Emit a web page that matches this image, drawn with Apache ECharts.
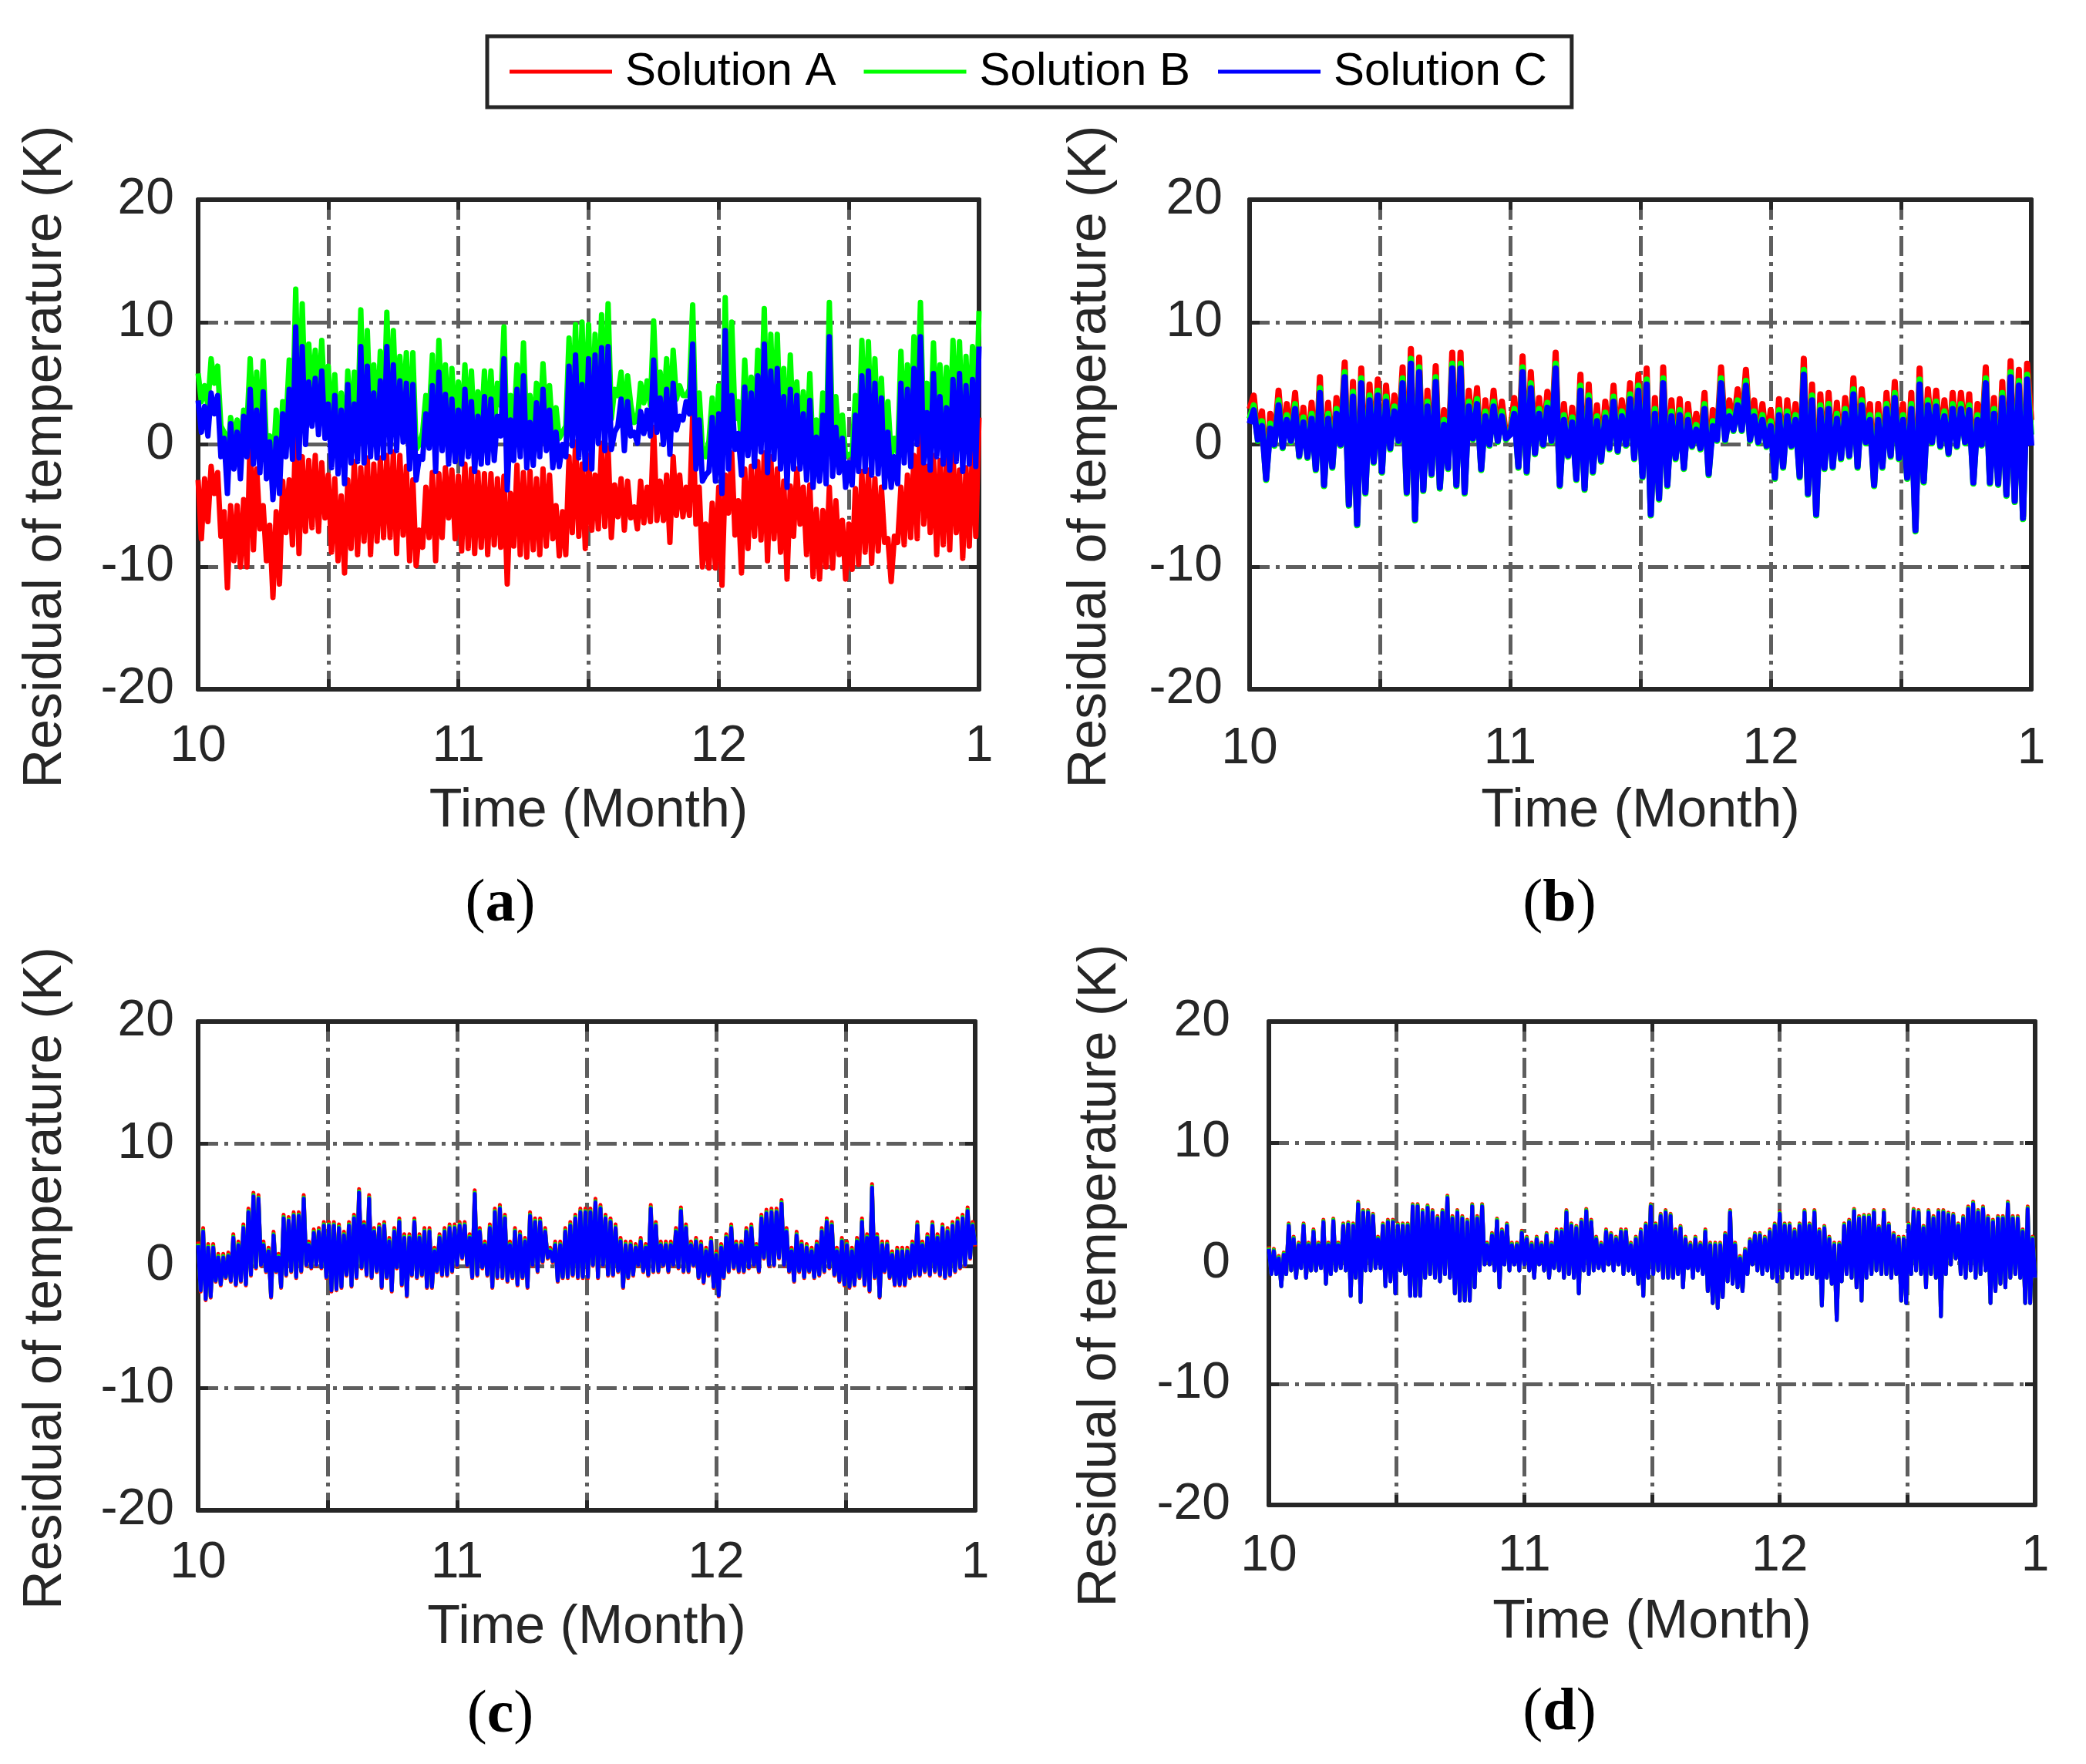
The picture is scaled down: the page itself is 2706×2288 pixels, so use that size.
<!DOCTYPE html>
<html>
<head>
<meta charset="utf-8">
<script src="https://cdn.jsdelivr.net/npm/echarts@6/dist/echarts.min.js"></script>
<style>
html, body { margin: 0; padding: 0; background: #ffffff; }
#chart { width: 2706px; height: 2288px; }
</style>
</head>
<body>
<div id="chart"></div>
<script>
const seriesNames = ['Solution A', 'Solution B', 'Solution C'];
const seriesColors = ['#ff0000', '#00ff00', '#0000ff'];
const xTickValues = [10, 11, 12, 13];
const xTickLabels = ['10', '11', '12', '1'];
const yTickValues = [-20, -10, 0, 10, 20];
const yTickLabels = ['-20', '-10', '0', '10', '20'];
const panelLetters = ['a', 'b', 'c', 'd'];
const xTitle = 'Time (Month)';
const yTitle = 'Residual of temperature (K)';

// ---------- panel (a) ----------
const solA_a = [-2.9, -7.7, -2.8, -6.3, -1.8, -4.0, -2.3, -7.5, -5.5, -11.7,
 -5.0, -9.5, -5.0, -10.0, -4.5, -10.0, 0.7, -8.6, -2.0, -6.9,
 -5.0, -9.5, -6.6, -12.5, -5.5, -11.4, -3.0, -7.2, -2.9, -8.2,
 1.5, -8.9, -1.0, -7.1, -1.3, -6.8, -0.9, -7.1, -1.5, -6.0,
 -2.5, -8.8, -2.8, -9.5, -4.2, -10.5, -2.9, -8.5, -1.4, -9.0,
 -1.9, -7.9, -1.1, -9.0, -1.6, -7.9, -1.1, -7.6, -0.9, -7.6,
 -0.6, -8.9, -0.9, -7.4, -1.8, -9.5, -2.9, -9.9, -7.0, -8.4,
 -3.5, -7.6, -2.3, -9.5, -2.4, -7.6, -1.9, -6.0, -2.1, -7.7,
 -2.6, -8.7, -1.6, -8.5, -2.0, -8.9, -2.3, -8.4, -2.4, -9.0,
 -2.4, -8.2, -2.8, -8.4, -2.6, -11.4, -4.0, -8.3, -1.7, -9.0,
 -2.3, -9.2, -2.2, -8.6, -2.8, -9.0, -2.0, -8.3, -2.5, -7.7,
 -5.0, -9.1, -5.5, -9.0, -1.0, -7.2, 0.2, -7.5, -1.6, -8.5,
 -0.9, -7.0, -2.5, -6.9, 0.1, -6.7, -0.3, -7.6, -3.3, -5.9,
 -2.8, -7.0, -3.0, -6.0, -5.1, -6.9, -3.0, -6.4, -3.5, -6.3,
 1.4, -6.2, -3.0, -6.2, -2.5, -8.0, -1.0, -5.8, -2.5, -5.9,
 -3.5, -5.8, 2.5, -6.5, -3.5, -10.0, -6.5, -10.1, -4.8, -10.1,
 -3.5, -11.5, -2.5, -5.6, -0.7, -7.4, -4.6, -10.5, -2.0, -8.5,
 -1.8, -7.5, -1.4, -7.8, -0.7, -9.5, -1.0, -7.7, -2.0, -8.8,
 -3.0, -11.0, -3.4, -7.5, -2.0, -6.5, -3.5, -9.0, -3.3, -10.8,
 -5.3, -11.0, -5.4, -10.0, -3.5, -10.1, -4.6, -9.0, -6.2, -11.0,
 -6.5, -10.2, -3.6, -9.8, -2.2, -8.8, -2.1, -9.7, -2.8, -8.7,
 -3.5, -8.0, -7.7, -11.2, -7.5, -8.0, -3.5, -8.2, -2.5, -7.6,
 -0.9, -7.7, 2.7, -6.5, -1.8, -7.2, -0.9, -9.0, -1.3, -8.2,
 -1.0, -8.6, -0.7, -7.2, -2.1, -9.3, -1.9, -8.3, -0.2, -7.5,
 2.2];
const solB_a = [5.8, 3.5, 4.8, 3.2, 7.0, 5.0, 6.4, 1.5, 1.0, -1.5,
 2.2, 0.5, 2.0, -0.3, 2.8, 1.5, 7.0, 1.0, 5.9, 0.2,
 6.8, -0.3, 0.7, -2.0, 2.8, -1.5, 3.5, 1.5, 6.9, 1.3,
 12.7, 1.5, 11.5, 2.5, 8.2, 4.0, 7.7, 3.3, 8.5, 3.0,
 6.4, 0.6, 5.7, 0.1, 4.2, -0.7, 6.0, 1.0, 5.9, 1.1,
 11.0, 1.0, 9.3, 1.5, 6.5, 1.4, 7.6, 1.4, 10.8, 1.9,
 9.3, 2.0, 7.2, 2.7, 7.5, 0.5, 7.5, -0.4, 0.0, 1.0,
 4.0, 2.2, 7.3, 0.3, 8.5, 2.0, 6.5, 0.9, 6.2, 1.1,
 5.1, 0.9, 6.5, 1.5, 6.0, 0.3, 4.3, 0.9, 6.0, 1.0,
 6.0, 1.2, 5.0, 3.2, 9.6, -1.2, 4.0, 1.2, 6.5, 1.5,
 8.3, 0.6, 4.0, 0.8, 5.0, 1.5, 6.6, 2.0, 4.8, 0.6,
 3.0, 0.5, 1.0, 1.5, 8.7, 2.4, 9.8, 1.4, 10.0, 0.5,
 9.8, 0.5, 9.0, 2.6, 10.6, 2.0, 11.5, 2.1, 4.5, 4.0,
 5.9, 2.0, 5.6, 3.2, 1.8, 2.0, 5.0, 3.4, 5.2, 3.2,
 10.1, 3.5, 5.9, 2.5, 7.0, 1.7, 7.7, 3.7, 4.8, 4.0,
 4.0, 4.5, 11.4, 0.5, 4.2, -0.5, -1.0, 0.3, 3.8, -0.5,
 4.8, -1.5, 12.0, 0.5, 10.0, 2.1, 3.5, 0.0, 6.9, 1.6,
 5.5, 0.7, 7.7, 1.9, 11.1, 0.2, 9.0, 1.3, 9.0, 0.5,
 6.2, -1.0, 7.3, 0.5, 5.1, 0.5, 4.3, -0.4, 5.8, -1.0,
 2.0, -0.5, 4.2, -0.7, 11.6, -0.1, 3.9, 0.2, 2.4, -1.0,
 -0.8, -0.8, 4.0, 0.3, 8.5, 0.3, 8.4, 0.0, 7.0, 0.1,
 5.4, -1.0, 3.5, -1.0, 0.5, -0.7, 7.6, 1.0, 6.5, 0.7,
 8.8, 2.5, 11.6, 1.0, 5.0, 0.4, 8.3, 1.5, 6.5, 0.9,
 6.3, 0.4, 8.5, 1.1, 8.4, 0.3, 7.2, 0.9, 8.0, 0.7,
 10.9];
const solC_a = [3.6, 1.0, 3.1, 0.7, 4.2, 2.5, 4.0, -1.0, 0.5, -4.0,
 1.7, -2.0, 1.0, -2.8, 2.3, -1.0, 4.5, -1.6, 2.8, -2.3,
 4.3, -2.8, 0.2, -4.5, 0.5, -4.0, 2.5, -1.0, 4.5, -1.2,
 9.6, -1.1, 8.0, 0.0, 5.1, 1.5, 5.4, 0.8, 6.0, 0.5,
 3.3, -1.9, 4.0, -2.4, 2.8, -3.2, 4.9, -1.5, 3.3, -1.4,
 8.0, -1.5, 6.4, -1.0, 4.2, -1.1, 5.2, -1.1, 8.0, -0.6,
 6.5, -0.5, 5.2, 0.2, 5.0, -2.0, 4.9, -2.9, -1.0, -1.2,
 2.5, -0.3, 4.8, -2.2, 5.9, -0.5, 4.1, -1.6, 3.7, -1.4,
 2.8, -1.6, 4.5, -1.0, 3.5, -2.2, 2.3, -1.6, 3.9, -1.5,
 3.7, -1.3, 2.3, 0.7, 7.0, -3.7, 2.0, -1.3, 4.5, -1.0,
 5.6, -1.9, 1.8, -1.7, 3.4, -1.0, 4.5, -0.5, 2.8, -1.9,
 1.0, -1.8, 0.0, -1.0, 6.4, -0.1, 7.3, -1.1, 4.9, -2.0,
 7.0, -2.0, 7.3, 0.1, 7.9, -0.5, 8.0, -0.4, 1.0, 1.5,
 3.7, -0.5, 3.5, 0.7, 1.0, 0.1, 2.7, 0.9, 2.8, 0.7,
 6.9, 1.0, 3.8, 0.0, 4.5, -0.8, 5.0, 1.2, 2.3, 2.0,
 3.5, 2.5, 8.2, -2.0, 2.0, -3.0, -2.5, -2.2, 2.2, -3.0,
 2.5, -4.0, 9.3, -2.0, 4.0, -0.4, 0.9, -2.5, 4.7, -0.9,
 4.2, -1.8, 5.6, -0.6, 8.2, -2.3, 6.0, -1.2, 6.2, -2.0,
 3.9, -3.5, 4.5, -2.0, 4.0, -2.0, 2.5, -2.9, 3.6, -3.5,
 0.6, -3.0, 2.4, -3.2, 8.8, -2.6, 1.4, -2.3, 0.5, -3.5,
 -1.5, -3.3, 2.4, -2.2, 5.6, -2.2, 6.0, -2.5, 5.0, -2.4,
 3.8, -3.5, 1.0, -3.5, -1.0, -3.2, 5.0, -1.5, 4.5, -1.8,
 6.2, 0.0, 8.8, -1.5, 2.6, -2.1, 5.8, -1.0, 3.9, -1.6,
 3.0, -2.1, 5.3, -1.4, 5.8, -2.2, 4.8, -1.6, 5.3, -1.8,
 8.0];

// ---------- panel (b) ----------
const solA_b = [2.9, 4.0, 0.6, 2.7, -2.6, 2.5, 0.2, 4.4, 0.0, 3.3,
 0.5, 4.2, -0.7, 3.0, -0.8, 3.4, -1.8, 5.5, -3.1, 3.4,
 -1.6, 3.8, 0.2, 6.7, -4.7, 5.1, -6.3, 6.2, -3.7, 4.9,
 -1.2, 5.3, -2.0, 4.8, -0.1, 4.0, 0.5, 6.3, -3.7, 7.8,
 -5.9, 7.1, -3.5, 4.4, -2.2, 6.4, -3.3, 2.8, -1.7, 7.5,
 -3.1, 7.5, -3.7, 4.4, 0.7, 4.6, -1.8, 3.6, 0.2, 4.4,
 0.5, 3.5, 0.7, 1.0, 3.8, -1.6, 7.2, -2.0, 5.9, -0.5,
 3.8, 0.2, 4.3, 0.5, 7.5, -3.1, 3.3, -0.7, 3.0, -2.6,
 5.7, -3.4, 4.9, -2.0, 3.2, -1.1, 3.5, -0.1, 4.8, -0.3,
 3.6, 0.2, 5.0, -0.9, 5.7, -2.4,
 6.2, -5.5, 3.8, -4.2, 6.3, -3.1, 3.6, -0.9, 3.7, -1.7,
 3.3, 0.1, 2.5, -0.1, 4.2, -2.2, 2.8, 0.6, 6.3, 0.6,
 3.6, 1.4, 4.5, 1.4, 6.1, 0.6, 3.6, 0.4, 3.3, 0.1,
 2.8, -2.5, 3.7, -1.6, 3.6, 0.1, 3.3, -2.4, 7.0, -3.8,
 4.9, -5.5, 4.1, -1.7, 4.2, -1.6, 3.4, -0.9, 3.8, -0.7,
 5.4, -1.6, 4.5, 0.4, 3.3, -3.1, 3.3, -1.6, 4.2, -0.7,
 5.1, -0.9, 3.3, -2.5, 4.2, -6.8, 6.2, -2.8, 4.5, 0.4,
 4.4, 0.1, 3.6, -0.5, 4.2, 0.1, 4.2, 0.4, 4.1, -2.9,
 3.3, 0.2, 6.3, -2.9, 3.8, -3.0, 5.1, -3.9, 6.8, -4.4,
 6.1, -5.8, 6.6, 2.0];
const solB_b = [2.1, 3.2, 0.3, 1.9, -2.9, 1.7, -0.1, 3.6, -0.3, 2.4,
 0.2, 3.3, -1.0, 2.2, -1.1, 2.5, -2.1, 4.6, -3.4, 2.5,
 -1.9, 2.9, -0.1, 5.9, -5.0, 4.3, -6.6, 5.4, -4.0, 4.0,
 -1.5, 4.4, -2.3, 3.9, -0.4, 3.1, 0.2, 5.4, -4.0, 7.0,
 -6.2, 6.3, -3.8, 3.5, -2.5, 5.5, -3.6, 2.0, -2.0, 6.6,
 -3.4, 6.6, -4.0, 3.5, 0.4, 3.7, -2.1, 2.7, -0.1, 3.5,
 0.2, 2.7, 0.4, 0.9, 2.9, -1.9, 6.3, -2.3, 5.0, -0.8,
 2.9, -0.1, 3.4, 0.2, 6.6, -3.4, 2.4, -1.0, 2.2, -2.9,
 4.8, -3.7, 4.0, -2.3, 2.3, -1.4, 2.6, -0.4, 3.9, -0.6,
 2.7, -0.1, 4.1, -1.2, 4.8, -2.7,
 5.3, -5.8, 2.9, -4.5, 5.4, -3.4, 2.7, -1.2, 2.8, -2.0,
 2.4, -0.2, 1.6, -0.4, 3.3, -2.5, 1.9, 0.3, 5.4, 0.3,
 2.7, 1.1, 3.6, 1.1, 5.2, 0.3, 2.7, 0.1, 2.4, -0.2,
 1.9, -2.8, 2.8, -1.9, 2.7, -0.2, 2.4, -2.7, 6.1, -4.1,
 4.0, -5.8, 3.2, -2.0, 3.3, -1.9, 2.5, -1.2, 2.9, -1.0,
 4.5, -1.9, 3.6, 0.1, 2.4, -3.4, 2.4, -1.9, 3.3, -1.0,
 4.2, -1.2, 2.4, -2.8, 3.3, -7.1, 5.3, -3.1, 3.6, 0.1,
 3.5, -0.2, 2.7, -0.8, 3.3, -0.2, 3.3, 0.1, 3.2, -3.2,
 2.4, -0.1, 5.4, -3.2, 2.9, -3.3, 4.2, -4.2, 5.9, -4.7,
 5.2, -6.1, 5.7, 0.8];
const solC_b = [1.7, 2.8, 0.4, 1.5, -2.8, 1.3, 0.0, 3.2, -0.2, 2.0,
 0.3, 2.9, -0.9, 1.8, -1.0, 2.1, -2.0, 4.2, -3.3, 2.1,
 -1.8, 2.5, 0.0, 5.5, -4.9, 3.9, -6.5, 5.0, -3.9, 3.6,
 -1.4, 4.0, -2.2, 3.5, -0.3, 2.7, 0.3, 5.0, -3.9, 6.6,
 -6.1, 5.9, -3.7, 3.1, -2.4, 5.1, -3.5, 1.6, -1.9, 6.2,
 -3.3, 6.2, -3.9, 3.1, 0.5, 3.3, -2.0, 2.3, 0.0, 3.1,
 0.3, 2.3, 0.5, 0.8, 2.5, -1.8, 5.9, -2.2, 4.6, -0.7,
 2.5, 0.0, 3.0, 0.3, 6.2, -3.3, 2.0, -0.9, 1.8, -2.8,
 4.4, -3.6, 3.6, -2.2, 1.9, -1.3, 2.2, -0.3, 3.5, -0.5,
 2.3, 0.0, 3.7, -1.1, 4.4, -2.6,
 4.9, -5.7, 2.5, -4.4, 5.0, -3.3, 2.3, -1.1, 2.4, -1.9,
 2.0, -0.1, 1.2, -0.3, 2.9, -2.4, 1.5, 0.4, 5.0, 0.4,
 2.3, 1.2, 3.2, 1.2, 4.8, 0.4, 2.3, 0.2, 2.0, -0.1,
 1.5, -2.7, 2.4, -1.8, 2.3, -0.1, 2.0, -2.6, 5.7, -4.0,
 3.6, -5.7, 2.8, -1.9, 2.9, -1.8, 2.1, -1.1, 2.5, -0.9,
 4.1, -1.8, 3.2, 0.2, 2.0, -3.3, 2.0, -1.8, 2.9, -0.9,
 3.8, -1.1, 2.0, -2.7, 2.9, -7.0, 4.9, -3.0, 3.2, 0.2,
 3.1, -0.1, 2.3, -0.7, 2.9, -0.1, 2.9, 0.2, 2.8, -3.1,
 2.0, 0.0, 5.0, -3.1, 2.5, -3.2, 3.8, -4.1, 5.5, -4.6,
 4.8, -6.0, 5.3, -0.1];

// ---------- panel (c) ----------
const solA_c = [2.0, -2.1, 3.1, -2.8, 1.8, -2.6, 1.8, -1.3, 1.0, -1.6,
 1.0, -1.0, 1.1, -1.3, 2.6, -1.6, 2.0, -1.3, 3.4, -1.6,
 4.7, -0.8, 6.0, -0.2, 5.8, 0.0, 2.0, -0.5, 1.5, -2.6,
 2.8, -0.5, 1.0, -1.8, 4.2, -0.8, 4.0, -0.5, 4.4, -1.0,
 4.4, -0.5, 5.8, 0.0, 2.0, -0.2, 3.0, 0.0, 3.1, -0.2,
 3.6, -1.0, 3.6, -2.1, 3.6, -2.0, 3.4, -1.8, 2.8, -0.8,
 3.6, -1.7, 4.2, -1.0, 6.3, -0.2, 3.6, -0.8, 5.8, -1.0,
 3.1, -0.5, 3.4, -1.8, 3.6, -1.0, 2.3, -2.1, 3.1, -0.2,
 3.9, -1.6, 2.6, -2.5, 2.6, -0.8, 3.9, -1.0, 2.6, -0.8,
 3.1, -1.8, 3.1, -1.8, 1.5, -0.5, 2.6, -0.8, 3.1, -0.8,
 3.4, -0.5, 3.4, 0.0, 3.6, 0.6, 3.6, 0.0, 2.6, -1.0,
 6.2, -0.8, 3.1, -0.2, 2.0, -0.8, 3.4, -1.8, 4.7, -1.0,
 5.0, -1.0, 4.2, -1.3, 2.0, -1.0, 3.1, -1.6, 2.8, -1.0,
 2.3, -1.8, 4.4, 0.0, 3.9, -0.5, 3.9, 0.3, 3.1, 0.6,
 1.5, 0.3, 2.0, -1.3, 2.0, -1.0, 3.1, -1.0, 3.6, -0.8,
 4.2, -1.0, 4.7, -1.0, 4.7, -1.0, 4.7, 0.0, 5.5, -1.0,
 5.0, 0.0, 4.2, -0.8, 3.9, -0.8, 3.4, -0.5, 2.3, -1.8,
 2.0, -1.0, 2.0, -0.8, 1.8, 0.0, 2.3, -0.5, 1.8, -0.8,
 5.0, -0.5, 3.6, -0.5, 2.0, 0.0, 2.0, -0.5, 2.0, 0.0,
 3.1, -0.2, 4.8, -0.5, 3.4, -0.5, 2.0, 0.0, 2.3, -1.0,
 2.0, -1.4, 1.5, -0.8, 2.3, -1.8, 1.2, -2.5, 1.8, -1.0,
 2.6, -0.5, 3.4, -0.2, 2.0, -0.5, 2.0, -0.5, 3.1, -0.2,
 3.4, 0.0, 1.8, -0.5, 4.2, 0.6, 4.6, 0.0, 4.7, 0.0,
 4.7, 0.6, 5.4, 0.0, 3.1, -0.5, 1.5, -1.3, 2.8, -0.5,
 2.0, -1.0, 1.8, -0.5, 1.5, -1.0, 2.0, -0.8, 3.1, -0.5,
 3.9, -0.2, 3.6, -0.8, 1.5, -1.3, 2.3, -1.6, 2.0, -1.8,
 1.5, -1.6, 2.3, -1.0, 3.9, -1.6, 2.6, -2.1, 6.7, -1.0,
 2.6, -2.6, 2.0, -0.5, 2.0, -1.0, 1.2, -1.6, 1.5, -1.6,
 1.5, -1.6, 1.5, -1.0, 2.0, -0.8, 3.6, -0.8, 2.0, -0.5,
 2.6, -0.8, 3.6, -0.5, 2.6, -0.8, 3.4, -1.0, 3.1, -0.8,
 3.6, -0.5, 3.9, -0.2, 4.2, 0.0, 4.8, 0.6, 3.6, 1.6];
const solB_c = [1.8, -2.0, 2.9, -2.7, 1.6, -2.5, 1.6, -1.2, 0.8, -1.5,
 0.8, -0.9, 0.9, -1.2, 2.4, -1.5, 1.8, -1.2, 3.2, -1.5,
 4.5, -0.7, 5.8, -0.1, 5.6, 0.1, 1.8, -0.4, 1.3, -2.5,
 2.6, -0.4, 0.8, -1.7, 4.0, -0.7, 3.8, -0.4, 4.2, -0.9,
 4.2, -0.4, 5.6, 0.1, 1.8, -0.1, 2.8, 0.1, 2.9, -0.1,
 3.4, -0.9, 3.4, -2.0, 3.4, -1.9, 3.2, -1.7, 2.6, -0.7,
 3.4, -1.6, 4.0, -0.9, 6.1, -0.1, 3.4, -0.7, 5.6, -0.9,
 2.9, -0.4, 3.2, -1.7, 3.4, -0.9, 2.1, -2.0, 2.9, -0.1,
 3.7, -1.5, 2.4, -2.4, 2.4, -0.7, 3.7, -0.9, 2.4, -0.7,
 2.9, -1.7, 2.9, -1.7, 1.3, -0.4, 2.4, -0.7, 2.9, -0.7,
 3.2, -0.4, 3.2, 0.1, 3.4, 0.7, 3.4, 0.1, 2.4, -0.9,
 6.0, -0.7, 2.9, -0.1, 1.8, -0.7, 3.2, -1.7, 4.5, -0.9,
 4.8, -0.9, 4.0, -1.2, 1.8, -0.9, 2.9, -1.5, 2.6, -0.9,
 2.1, -1.7, 4.2, 0.1, 3.7, -0.4, 3.7, 0.4, 2.9, 0.7,
 1.3, 0.4, 1.8, -1.2, 1.8, -0.9, 2.9, -0.9, 3.4, -0.7,
 4.0, -0.9, 4.5, -0.9, 4.5, -0.9, 4.5, 0.1, 5.3, -0.9,
 4.8, 0.1, 4.0, -0.7, 3.7, -0.7, 3.2, -0.4, 2.1, -1.7,
 1.8, -0.9, 1.8, -0.7, 1.6, 0.1, 2.1, -0.4, 1.6, -0.7,
 4.8, -0.4, 3.4, -0.4, 1.8, 0.1, 1.8, -0.4, 1.8, 0.1,
 2.9, -0.1, 4.6, -0.4, 3.2, -0.4, 1.8, 0.1, 2.1, -0.9,
 1.8, -1.3, 1.3, -0.7, 2.1, -1.7, 1.0, -2.4, 1.6, -0.9,
 2.4, -0.4, 3.2, -0.1, 1.8, -0.4, 1.8, -0.4, 2.9, -0.1,
 3.2, 0.1, 1.6, -0.4, 4.0, 0.7, 4.4, 0.1, 4.5, 0.1,
 4.5, 0.7, 5.2, 0.1, 2.9, -0.4, 1.3, -1.2, 2.6, -0.4,
 1.8, -0.9, 1.6, -0.4, 1.3, -0.9, 1.8, -0.7, 2.9, -0.4,
 3.7, -0.1, 3.4, -0.7, 1.3, -1.2, 2.1, -1.5, 1.8, -1.7,
 1.3, -1.5, 2.1, -0.9, 3.7, -1.5, 2.4, -2.0, 6.5, -0.9,
 2.4, -2.5, 1.8, -0.4, 1.8, -0.9, 1.0, -1.5, 1.3, -1.5,
 1.3, -1.5, 1.3, -0.9, 1.8, -0.7, 3.4, -0.7, 1.8, -0.4,
 2.4, -0.7, 3.4, -0.4, 2.4, -0.7, 3.2, -0.9, 2.9, -0.7,
 3.4, -0.4, 3.7, -0.1, 4.0, 0.1, 4.6, 0.7, 3.4, 1.7];
const solC_c = [1.7, -2.0, 2.8, -2.7, 1.5, -2.5, 1.5, -1.2, 0.7, -1.5,
 0.7, -0.9, 0.8, -1.2, 2.3, -1.5, 1.7, -1.2, 3.1, -1.5,
 4.4, -0.7, 5.7, -0.1, 5.5, 0.1, 1.7, -0.4, 1.2, -2.5,
 2.5, -0.4, 0.7, -1.7, 3.9, -0.7, 3.7, -0.4, 4.1, -0.9,
 4.1, -0.4, 5.5, 0.1, 1.7, -0.1, 2.7, 0.1, 2.8, -0.1,
 3.3, -0.9, 3.3, -2.0, 3.3, -1.9, 3.1, -1.7, 2.5, -0.7,
 3.3, -1.6, 3.9, -0.9, 6.0, -0.1, 3.3, -0.7, 5.5, -0.9,
 2.8, -0.4, 3.1, -1.7, 3.3, -0.9, 2.0, -2.0, 2.8, -0.1,
 3.6, -1.5, 2.3, -2.4, 2.3, -0.7, 3.6, -0.9, 2.3, -0.7,
 2.8, -1.7, 2.8, -1.7, 1.2, -0.4, 2.3, -0.7, 2.8, -0.7,
 3.1, -0.4, 3.1, 0.1, 3.3, 0.7, 3.3, 0.1, 2.3, -0.9,
 5.9, -0.7, 2.8, -0.1, 1.7, -0.7, 3.1, -1.7, 4.4, -0.9,
 4.7, -0.9, 3.9, -1.2, 1.7, -0.9, 2.8, -1.5, 2.5, -0.9,
 2.0, -1.7, 4.1, 0.1, 3.6, -0.4, 3.6, 0.4, 2.8, 0.7,
 1.2, 0.4, 1.7, -1.2, 1.7, -0.9, 2.8, -0.9, 3.3, -0.7,
 3.9, -0.9, 4.4, -0.9, 4.4, -0.9, 4.4, 0.1, 5.2, -0.9,
 4.7, 0.1, 3.9, -0.7, 3.6, -0.7, 3.1, -0.4, 2.0, -1.7,
 1.7, -0.9, 1.7, -0.7, 1.5, 0.1, 2.0, -0.4, 1.5, -0.7,
 4.7, -0.4, 3.3, -0.4, 1.7, 0.1, 1.7, -0.4, 1.7, 0.1,
 2.8, -0.1, 4.5, -0.4, 3.1, -0.4, 1.7, 0.1, 2.0, -0.9,
 1.7, -1.3, 1.2, -0.7, 2.0, -1.7, 0.9, -2.4, 1.5, -0.9,
 2.3, -0.4, 3.1, -0.1, 1.7, -0.4, 1.7, -0.4, 2.8, -0.1,
 3.1, 0.1, 1.5, -0.4, 3.9, 0.7, 4.3, 0.1, 4.4, 0.1,
 4.4, 0.7, 5.1, 0.1, 2.8, -0.4, 1.2, -1.2, 2.5, -0.4,
 1.7, -0.9, 1.5, -0.4, 1.2, -0.9, 1.7, -0.7, 2.8, -0.4,
 3.6, -0.1, 3.3, -0.7, 1.2, -1.2, 2.0, -1.5, 1.7, -1.7,
 1.2, -1.5, 2.0, -0.9, 3.6, -1.5, 2.3, -2.0, 6.4, -0.9,
 2.3, -2.5, 1.7, -0.4, 1.7, -0.9, 0.9, -1.5, 1.2, -1.5,
 1.2, -1.5, 1.2, -0.9, 1.7, -0.7, 3.3, -0.7, 1.7, -0.4,
 2.3, -0.7, 3.3, -0.4, 2.3, -0.7, 3.1, -0.9, 2.8, -0.7,
 3.3, -0.4, 3.6, -0.1, 3.9, 0.1, 4.5, 0.7, 3.3, 1.7];

// ---------- panel (d) ----------
const solA_d = [1.4, -0.9, 1.2, -0.9, 0.6, -1.9, 0.9, -0.9, 3.3, -0.6,
 2.2, -1.2, 1.7, -0.4, 3.3, -1.2, 1.7, -0.6, 2.8, -0.6,
 1.7, -0.4, 3.6, -1.7, 1.7, -0.9, 3.7, -0.6, 1.7, -0.4,
 3.3, -0.6, 3.4, -2.7, 3.3, -1.2, 5.1, -3.2, 4.4, -0.6,
 4.4, -0.6, 4.1, -0.4, 2.2, -0.4, 3.3, -1.9, 3.6, -1.5,
 3.6, -2.5, 3.3, -0.6, 3.3, -0.9, 3.3, -2.7, 4.9, -2.7,
 4.9, -2.7, 4.4, -1.2, 4.8, -0.9, 4.4, -1.2, 3.9, -1.5,
 4.4, -0.9, 5.6, -1.2, 3.9, -2.5, 4.4, -3.1, 3.9, -3.1,
 3.6, -3.1, 4.9, -2.0, 3.9, -0.6, 4.9, -0.1, 1.7, -0.1,
 2.5, -0.6, 3.7, -2.0, 2.8, -0.1, 3.3, -0.6, 1.7, -0.1,
 1.7, -0.6, 2.7, -0.1, 2.2, -0.6, 1.7, -1.2, 2.2, -0.1,
 1.7, -0.6, 2.5, -1.2, 1.7, -0.4, 2.8, -0.6, 2.8, -1.2,
 4.4, -0.9, 3.3, -1.2, 3.1, -2.5, 3.6, -0.6, 4.5, -0.9,
 3.6, -0.6, 2.2, -0.4, 1.7, -0.6, 2.8, -0.1, 2.5, -0.6,
 2.2, -0.1, 2.8, -0.9, 2.8, -0.6, 1.7, -0.9, 2.2, -1.7,
 2.8, -2.7, 3.3, -1.2, 4.9, -0.9, 3.3, -0.6, 4.1, -1.2,
 4.4, -1.2, 4.1, -1.2, 2.8, -0.9, 3.1, -2.0, 2.2, -0.4,
 1.7, -1.2, 2.2, -0.6, 1.7, -0.9, 2.8, -2.3, 1.7, -3.3,
 1.7, -3.7, 1.7, -2.8, 2.5, -1.5, 4.4, -1.7, 1.7, -2.0,
 0.6, -2.3, 1.2, -0.9, 2.0, -0.1, 2.5, -0.6, 2.5, -0.9,
 2.2, -0.6, 2.8, -1.2, 3.3, -1.5, 4.3, -1.2, 3.3, -0.6,
 3.3, -1.2, 2.8, -0.9, 3.3, -1.2, 4.4, -0.9, 3.3, -0.9,
 4.4, -1.2, 2.8, -3.5, 3.1, -1.2, 2.2, -1.7, 1.7, -4.7,
 1.7, -1.5, 3.3, -0.9, 3.6, -1.2, 4.5, -2.0, 3.9, -3.1,
 4.0, -1.2, 4.0, -0.9, 4.4, -0.6, 3.1, -0.9, 4.4, -0.9,
 3.3, -1.2, 2.5, -0.9, 2.2, -3.1, 2.2, -3.3, 3.3, -0.9,
 4.5, -0.6, 4.4, -0.9, 3.1, -2.0, 4.4, -0.9, 3.9, -1.2,
 4.4, -4.4, 4.4, -0.9, 4.2, -0.1, 4.1, 0.4, 3.3, -0.9,
 3.9, -1.2, 4.7, -0.6, 5.1, -1.2, 4.4, -0.9, 4.7, -0.6,
 3.9, -3.3, 3.6, -2.3, 3.9, -1.7, 3.9, -2.0, 5.1, -1.2,
 3.9, -0.9, 3.9, -1.2, 2.8, -3.3, 4.7, -3.3, 2.2, -1.2];
const solB_d = [1.3, -0.9, 1.1, -0.9, 0.5, -1.9, 0.8, -0.9, 3.2, -0.6,
 2.1, -1.2, 1.6, -0.4, 3.2, -1.2, 1.6, -0.6, 2.7, -0.6,
 1.6, -0.4, 3.5, -1.7, 1.6, -0.9, 3.6, -0.6, 1.6, -0.4,
 3.2, -0.6, 3.3, -2.7, 3.2, -1.2, 5.0, -3.2, 4.3, -0.6,
 4.3, -0.6, 4.0, -0.4, 2.1, -0.4, 3.2, -1.9, 3.5, -1.5,
 3.5, -2.5, 3.2, -0.6, 3.2, -0.9, 3.2, -2.7, 4.8, -2.7,
 4.8, -2.7, 4.3, -1.2, 4.7, -0.9, 4.3, -1.2, 3.8, -1.5,
 4.3, -0.9, 5.5, -1.2, 3.8, -2.5, 4.3, -3.1, 3.8, -3.1,
 3.5, -3.1, 4.8, -2.0, 3.8, -0.6, 4.8, -0.1, 1.6, -0.1,
 2.4, -0.6, 3.6, -2.0, 2.7, -0.1, 3.2, -0.6, 1.6, -0.1,
 1.6, -0.6, 2.6, -0.1, 2.1, -0.6, 1.6, -1.2, 2.1, -0.1,
 1.6, -0.6, 2.4, -1.2, 1.6, -0.4, 2.7, -0.6, 2.7, -1.2,
 4.3, -0.9, 3.2, -1.2, 3.0, -2.5, 3.5, -0.6, 4.4, -0.9,
 3.5, -0.6, 2.1, -0.4, 1.6, -0.6, 2.7, -0.1, 2.4, -0.6,
 2.1, -0.1, 2.7, -0.9, 2.7, -0.6, 1.6, -0.9, 2.1, -1.7,
 2.7, -2.7, 3.2, -1.2, 4.8, -0.9, 3.2, -0.6, 4.0, -1.2,
 4.3, -1.2, 4.0, -1.2, 2.7, -0.9, 3.0, -2.0, 2.1, -0.4,
 1.6, -1.2, 2.1, -0.6, 1.6, -0.9, 2.7, -2.3, 1.6, -3.3,
 1.6, -3.7, 1.6, -2.8, 2.4, -1.5, 4.3, -1.7, 1.6, -2.0,
 0.5, -2.3, 1.1, -0.9, 1.9, -0.1, 2.4, -0.6, 2.4, -0.9,
 2.1, -0.6, 2.7, -1.2, 3.2, -1.5, 4.2, -1.2, 3.2, -0.6,
 3.2, -1.2, 2.7, -0.9, 3.2, -1.2, 4.3, -0.9, 3.2, -0.9,
 4.3, -1.2, 2.7, -3.5, 3.0, -1.2, 2.1, -1.7, 1.6, -4.7,
 1.6, -1.5, 3.2, -0.9, 3.5, -1.2, 4.4, -2.0, 3.8, -3.1,
 3.9, -1.2, 3.9, -0.9, 4.3, -0.6, 3.0, -0.9, 4.3, -0.9,
 3.2, -1.2, 2.4, -0.9, 2.1, -3.1, 2.1, -3.3, 3.2, -0.9,
 4.4, -0.6, 4.3, -0.9, 3.0, -2.0, 4.3, -0.9, 3.8, -1.2,
 4.3, -4.4, 4.3, -0.9, 4.1, -0.1, 4.0, 0.4, 3.2, -0.9,
 3.8, -1.2, 4.6, -0.6, 5.0, -1.2, 4.3, -0.9, 4.6, -0.6,
 3.8, -3.3, 3.5, -2.3, 3.8, -1.7, 3.8, -2.0, 5.0, -1.2,
 3.8, -0.9, 3.8, -1.2, 2.7, -3.3, 4.6, -3.3, 2.1, -1.2];
const solC_d = [1.2, -0.9, 1.0, -0.9, 0.4, -1.9, 0.7, -0.9, 3.1, -0.6,
 2.0, -1.2, 1.5, -0.4, 3.1, -1.2, 1.5, -0.6, 2.6, -0.6,
 1.5, -0.4, 3.4, -1.7, 1.5, -0.9, 3.5, -0.6, 1.5, -0.4,
 3.1, -0.6, 3.2, -2.7, 3.1, -1.2, 4.9, -3.2, 4.2, -0.6,
 4.2, -0.6, 3.9, -0.4, 2.0, -0.4, 3.1, -1.9, 3.4, -1.5,
 3.4, -2.5, 3.1, -0.6, 3.1, -0.9, 3.1, -2.7, 4.7, -2.7,
 4.7, -2.7, 4.2, -1.2, 4.6, -0.9, 4.2, -1.2, 3.7, -1.5,
 4.2, -0.9, 5.4, -1.2, 3.7, -2.5, 4.2, -3.1, 3.7, -3.1,
 3.4, -3.1, 4.7, -2.0, 3.7, -0.6, 4.7, -0.1, 1.5, -0.1,
 2.3, -0.6, 3.5, -2.0, 2.6, -0.1, 3.1, -0.6, 1.5, -0.1,
 1.5, -0.6, 2.5, -0.1, 2.0, -0.6, 1.5, -1.2, 2.0, -0.1,
 1.5, -0.6, 2.3, -1.2, 1.5, -0.4, 2.6, -0.6, 2.6, -1.2,
 4.2, -0.9, 3.1, -1.2, 2.9, -2.5, 3.4, -0.6, 4.3, -0.9,
 3.4, -0.6, 2.0, -0.4, 1.5, -0.6, 2.6, -0.1, 2.3, -0.6,
 2.0, -0.1, 2.6, -0.9, 2.6, -0.6, 1.5, -0.9, 2.0, -1.7,
 2.6, -2.7, 3.1, -1.2, 4.7, -0.9, 3.1, -0.6, 3.9, -1.2,
 4.2, -1.2, 3.9, -1.2, 2.6, -0.9, 2.9, -2.0, 2.0, -0.4,
 1.5, -1.2, 2.0, -0.6, 1.5, -0.9, 2.6, -2.3, 1.5, -3.3,
 1.5, -3.7, 1.5, -2.8, 2.3, -1.5, 4.2, -1.7, 1.5, -2.0,
 0.4, -2.3, 1.0, -0.9, 1.8, -0.1, 2.3, -0.6, 2.3, -0.9,
 2.0, -0.6, 2.6, -1.2, 3.1, -1.5, 4.1, -1.2, 3.1, -0.6,
 3.1, -1.2, 2.6, -0.9, 3.1, -1.2, 4.2, -0.9, 3.1, -0.9,
 4.2, -1.2, 2.6, -3.5, 2.9, -1.2, 2.0, -1.7, 1.5, -4.7,
 1.5, -1.5, 3.1, -0.9, 3.4, -1.2, 4.3, -2.0, 3.7, -3.1,
 3.8, -1.2, 3.8, -0.9, 4.2, -0.6, 2.9, -0.9, 4.2, -0.9,
 3.1, -1.2, 2.3, -0.9, 2.0, -3.1, 2.0, -3.3, 3.1, -0.9,
 4.3, -0.6, 4.2, -0.9, 2.9, -2.0, 4.2, -0.9, 3.7, -1.2,
 4.2, -4.4, 4.2, -0.9, 4.0, -0.1, 3.9, 0.4, 3.1, -0.9,
 3.7, -1.2, 4.5, -0.6, 4.9, -1.2, 4.2, -0.9, 4.5, -0.6,
 3.7, -3.3, 3.4, -2.3, 3.7, -1.7, 3.7, -2.0, 4.9, -1.2,
 3.7, -0.9, 3.7, -1.2, 2.6, -3.3, 4.5, -3.3, 2.0, -1.2];

// ---------- layout / styling ----------
const panelData = [
  [solA_a, solB_a, solC_a],
  [solA_b, solB_b, solC_b],
  [solA_c, solB_c, solC_c],
  [solA_d, solB_d, solC_d]
];
const layouts = [
  { left: 257, top: 259, width: 1013, height: 635, yLabelMargin: 31, xLabelMargin: 42, yNameGap: 162, xNameGap: 124, cap: [649, 1174], lw: 7 },
  { left: 1621, top: 259, width: 1014, height: 635, yLabelMargin: 35, xLabelMargin: 45, yNameGap: 171, xNameGap: 124, cap: [2023, 1174], lw: 8 },
  { left: 257, top: 1325, width: 1008, height: 634, yLabelMargin: 31, xLabelMargin: 36, yNameGap: 162, xNameGap: 118, cap: [649, 2226], lw: 5 },
  { left: 1646, top: 1325, width: 994, height: 627, yLabelMargin: 50, xLabelMargin: 34, yNameGap: 183, xNameGap: 118, cap: [2023, 2223], lw: 5 }
];
const axisColor = '#262626';
const gridColor = '#5e5e5e';
const sansFont = '"Liberation Sans", Arial, Helvetica, sans-serif';
const serifFont = '"Liberation Serif", "Times New Roman", serif';
const gridDash = [26, 8, 5, 8];

const fmtX = v => { const j = xTickValues.indexOf(v); return j >= 0 ? xTickLabels[j] : ''; };
const fmtY = v => { const j = yTickValues.indexOf(v); return j >= 0 ? yTickLabels[j] : ''; };

const grid = [], xAxis = [], yAxis = [], series = [], graphic = [];
const lineAx = { show: true, onZero: false, lineStyle: { color: axisColor, width: 6 } };
const tickAx = { show: true, inside: true, length: 13, lineStyle: { color: axisColor, width: 5 } };

layouts.forEach((L, k) => {
  grid.push({ left: L.left, top: L.top, width: L.width, height: L.height, containLabel: false, outerBoundsMode: 'none' });
  xAxis.push({
    gridIndex: k, type: 'value', position: 'bottom', min: 10, max: 13, interval: 0.5,
    axisLine: lineAx, axisTick: tickAx,
    axisLabel: { show: true, margin: L.xLabelMargin, formatter: fmtX, fontSize: 66, color: axisColor, fontFamily: sansFont, showMinLabel: true, showMaxLabel: true },
    splitLine: { show: true, showMinLine: false, showMaxLine: false, lineStyle: { color: gridColor, width: 5, type: gridDash } },
    name: xTitle, nameLocation: 'middle', nameGap: L.xNameGap,
    nameTextStyle: { fontSize: 70, color: axisColor, fontFamily: sansFont }
  });
  xAxis.push({
    gridIndex: k, type: 'value', position: 'top', min: 10, max: 13, interval: 0.5,
    axisLine: lineAx, axisTick: tickAx, axisLabel: { show: false }, splitLine: { show: false }
  });
  yAxis.push({
    gridIndex: k, type: 'value', position: 'left', min: -20, max: 20, interval: 10,
    axisLine: lineAx, axisTick: tickAx,
    axisLabel: { show: true, margin: L.yLabelMargin, formatter: fmtY, fontSize: 66, color: axisColor, fontFamily: sansFont },
    splitLine: { show: true, showMinLine: false, showMaxLine: false, lineStyle: { color: gridColor, width: 5, type: gridDash } },
    name: yTitle, nameLocation: 'middle', nameGap: L.yNameGap, nameRotate: 90,
    nameTextStyle: { fontSize: 70, color: axisColor, fontFamily: sansFont, padding: [0, 32, 0, 0] }
  });
  yAxis.push({
    gridIndex: k, type: 'value', position: 'right', min: -20, max: 20, interval: 10,
    axisLine: lineAx, axisTick: tickAx, axisLabel: { show: false }, splitLine: { show: false }
  });
  panelData[k].forEach((vals, j) => {
    const n = vals.length;
    series.push({
      type: 'line', name: seriesNames[j], xAxisIndex: 2 * k, yAxisIndex: 2 * k,
      data: vals.map((v, i) => [10 + 3 * i / (n - 1), v]),
      symbol: 'none', showSymbol: false, color: seriesColors[j],
      lineStyle: { width: L.lw, color: seriesColors[j], join: 'round' },
      animation: false, silent: true
    });
  });
  graphic.push({
    type: 'text', x: L.cap[0], y: L.cap[1],
    style: {
      text: '{p|(}{b|' + panelLetters[k] + '}{p|)}',
      align: 'center', verticalAlign: 'middle', fill: '#000',
      rich: {
        p: { fontSize: 78, fontFamily: serifFont, fill: '#000' },
        b: { fontSize: 78, fontFamily: serifFont, fontWeight: 'bold', fill: '#000' }
      }
    }
  });
});

const chart = echarts.init(document.getElementById('chart'), null, { renderer: 'canvas' });
chart.setOption({
  backgroundColor: '#ffffff',
  animation: false,
  legend: {
    data: seriesNames, left: 632, top: 47, orient: 'horizontal',
    icon: 'rect', itemWidth: 133, itemHeight: 5, itemGap: 36,
    padding: [16, 32, 16, 29], borderColor: axisColor, borderWidth: 5, backgroundColor: '#ffffff',
    textStyle: { fontSize: 60, color: '#000', fontFamily: sansFont, padding: [0, 0, 0, 12] },
    selectedMode: false
  },
  grid, xAxis, yAxis, series, graphic
});
</script>
</body>
</html>
